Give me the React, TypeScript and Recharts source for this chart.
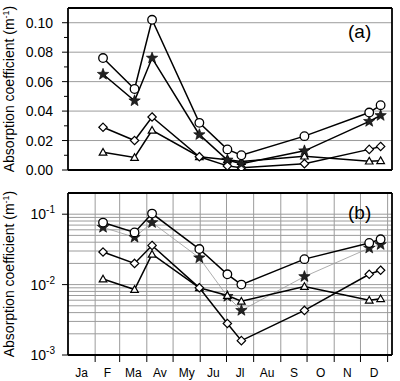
import React from 'react';
import { LineChart, Line, XAxis, YAxis, CartesianGrid } from 'recharts';

// sampling dates (day of year) and the four absorption series
const days = [40, 76, 96, 150, 182, 198, 270, 344, 357];
const circles = [0.076, 0.055, 0.102, 0.032, 0.014, 0.01, 0.023, 0.039, 0.044];
const stars = [0.065, 0.047, 0.076, 0.024, 0.0068, 0.0043, 0.013, 0.033, 0.037];
const diamonds = [0.029, 0.02, 0.036, 0.009, 0.0028, 0.0016, 0.0043, 0.014, 0.016];
const triangles = [0.012, 0.0085, 0.027, 0.009, 0.007, 0.0058, 0.0094, 0.006, 0.0063];

const monthLabels = ['Ja', 'F', 'Ma', 'Av', 'My', 'Ju', 'Jl', 'Au', 'S', 'O', 'N', 'D'];
const monthEnds = [31, 59, 90, 120, 151, 181, 212, 243, 273, 304, 334, 365];
const monthMids = [15.5, 45, 74.5, 105, 135.5, 166, 196.5, 227.5, 258, 288.5, 319, 349.5];

const linMajor = [0, 0.02, 0.04, 0.06, 0.08, 0.1];
const linMinor = [0.01, 0.03, 0.05, 0.07, 0.09];
const linGrid = [0.02, 0.04, 0.06, 0.08, 0.1];
const logMajor = [0.001, 0.01, 0.1];
const logExp = ['-3', '-2', '-1'];
const logGrid = [
  0.002, 0.003, 0.004, 0.005, 0.006, 0.007, 0.008, 0.009, 0.01,
  0.02, 0.03, 0.04, 0.05, 0.06, 0.07, 0.08, 0.09, 0.1,
];

const rows = days.map((d, i) => ({
  day: d,
  circ: circles[i],
  star: stars[i],
  diam: diamonds[i],
  tri: triangles[i],
}));

const FONT = 'Liberation Sans, Arial, Helvetica, sans-serif';
const GRID = '#9c9c9c';
const linAll = [...linMajor, ...linMinor].sort((a, b) => a - b);
const monthTicks = [...monthEnds, ...monthMids].sort((a, b) => a - b);

function CircleDot(p: any) {
  if (p.cx == null) return <g key={p.key} />;
  return <circle key={p.key} cx={p.cx} cy={p.cy} r={4.3} fill="#fff" stroke="#000" strokeWidth={1.3} />;
}

function DiamondDot(p: any) {
  if (p.cx == null) return <g key={p.key} />;
  const s = 4.2;
  return (
    <path
      key={p.key}
      d={`M${p.cx},${p.cy - s}L${p.cx + s},${p.cy}L${p.cx},${p.cy + s}L${p.cx - s},${p.cy}Z`}
      fill="#fff"
      stroke="#000"
      strokeWidth={1.2}
    />
  );
}

function TriangleDot(p: any) {
  if (p.cx == null) return <g key={p.key} />;
  const s = 3.8;
  return (
    <path
      key={p.key}
      d={`M${p.cx},${p.cy - s}L${p.cx + s},${p.cy + s * 0.75}L${p.cx - s},${p.cy + s * 0.75}Z`}
      fill="#fff"
      stroke="#000"
      strokeWidth={1.2}
    />
  );
}

function StarDot(p: any) {
  if (p.cx == null) return <g key={p.key} />;
  const pts: string[] = [];
  for (let k = 0; k < 10; k++) {
    const r = k % 2 === 0 ? 6 : 2.5;
    const a = -Math.PI / 2 + (k * Math.PI) / 5;
    pts.push(`${p.cx + r * Math.cos(a)},${p.cy + r * Math.sin(a)}`);
  }
  return <polygon key={p.key} points={pts.join(' ')} fill="#222" stroke="#000" strokeWidth={0.6} />;
}

function LinTick(p: any) {
  const v = p.payload.value;
  const major = linMajor.includes(v);
  return (
    <g>
      <line x1={p.x} x2={p.x - (major ? 6 : 4)} y1={p.y} y2={p.y} stroke="#000" />
      {major && (
        <text x={p.x - 15} y={p.y + 5} textAnchor="end" fontSize={14} fontFamily={FONT} fill="#000">
          {v.toFixed(2)}
        </text>
      )}
    </g>
  );
}

function LogTick(p: any) {
  const i = logMajor.indexOf(p.payload.value);
  return (
    <g>
      <line x1={p.x} x2={p.x - 6} y1={p.y} y2={p.y} stroke="#000" />
      <text x={p.x - 13} y={p.y + 5} textAnchor="end" fontSize={14} fontFamily={FONT} fill="#000">
        <tspan>10</tspan>
        <tspan dy={-6} fontSize={10}>{logExp[i]}</tspan>
      </text>
    </g>
  );
}

function MonthTick(p: any) {
  const v = p.payload.value;
  const i = monthMids.indexOf(v);
  if (i >= 0) {
    return (
      <text x={p.x} y={p.y + 22} textAnchor="middle" fontSize={12} fontFamily={FONT} fill="#000">
        {monthLabels[i]}
      </text>
    );
  }
  return <line x1={p.x} x2={p.x} y1={p.y} y2={p.y + 7} stroke="#000" />;
}

function YLabel({ cy }: { cy: number }) {
  return (
    <text
      x={14}
      y={cy}
      transform={`rotate(-90 14 ${cy})`}
      textAnchor="middle"
      fontSize={14}
      fontFamily={FONT}
      fill="#000"
    >
      Absorption coefficient (m
      <tspan dy={-5} fontSize={9}>-1</tspan>
      <tspan dy={5}>)</tspan>
    </text>
  );
}

const frame = { stroke: '#000', strokeWidth: 1.8 };

export default function App() {
  return (
    <div style={{ position: 'absolute', left: 0, top: 0, width: 400, height: 381, background: '#fff' }}>
      <LineChart width={400} height={180} data={rows} margin={{ top: 0, right: 0, bottom: 0, left: 8 }}>
        <CartesianGrid horizontalValues={linGrid} verticalValues={monthEnds} stroke={GRID} fill="none" />
        <XAxis
          dataKey="day"
          type="number"
          domain={[0, 370]}
          allowDataOverflow
          ticks={monthEnds}
          interval={0}
          tick={false}
          tickSize={6}
          height={10}
          axisLine={frame}
          tickLine={{ stroke: '#000' }}
        />
        <XAxis
          xAxisId="top"
          orientation="top"
          dataKey="day"
          type="number"
          domain={[0, 370]}
          allowDataOverflow
          ticks={monthEnds}
          interval={0}
          tick={false}
          tickSize={6}
          height={8}
          axisLine={frame}
          tickLine={{ stroke: '#000' }}
        />
        <YAxis
          type="number"
          domain={[0, 0.11]}
          allowDataOverflow
          ticks={linAll}
          interval={0}
          width={60}
          tickSize={0}
          tickMargin={0}
          tickLine={false}
          tick={<LinTick />}
          axisLine={frame}
        />
        <YAxis
          yAxisId="right"
          orientation="right"
          type="number"
          domain={[0, 0.11]}
          allowDataOverflow
          ticks={linAll}
          interval={0}
          width={8}
          tickSize={3}
          tick={false}
          axisLine={frame}
          tickLine={{ stroke: '#000' }}
        />
        <Line dataKey="tri" stroke="#000" strokeWidth={1.5} dot={TriangleDot} isAnimationActive={false} />
        <Line dataKey="diam" stroke="#000" strokeWidth={1.5} dot={DiamondDot} isAnimationActive={false} />
        <Line dataKey="star" stroke="#000" strokeWidth={1.5} dot={StarDot} isAnimationActive={false} />
        <Line dataKey="circ" stroke="#000" strokeWidth={1.5} dot={CircleDot} isAnimationActive={false} />
        <YLabel cy={89} />
        <text x={348} y={38} fontSize={19} fontFamily={FONT} fill="#000">(a)</text>
      </LineChart>
      <LineChart width={400} height={201} data={rows} margin={{ top: 5, right: 0, bottom: 0, left: 8 }}>
        <CartesianGrid horizontalValues={logGrid} verticalValues={monthEnds} stroke={GRID} fill="none" />
        <XAxis
          dataKey="day"
          type="number"
          domain={[0, 370]}
          allowDataOverflow
          ticks={monthTicks}
          interval={0}
          tickSize={0}
          tickMargin={0}
          tickLine={false}
          tick={<MonthTick />}
          height={26}
          axisLine={frame}
        />
        <XAxis
          xAxisId="top"
          orientation="top"
          dataKey="day"
          type="number"
          domain={[0, 370]}
          allowDataOverflow
          ticks={monthEnds}
          interval={0}
          tick={false}
          tickSize={6}
          height={8}
          axisLine={frame}
          tickLine={{ stroke: '#000' }}
        />
        <YAxis
          type="number"
          scale="log"
          domain={[0.001, 0.2]}
          allowDataOverflow
          ticks={logMajor}
          interval={0}
          width={60}
          tickSize={0}
          tickMargin={0}
          tickLine={false}
          tick={<LogTick />}
          axisLine={frame}
        />
        <YAxis
          yAxisId="right"
          orientation="right"
          type="number"
          scale="log"
          domain={[0.001, 0.2]}
          allowDataOverflow
          ticks={logMajor}
          interval={0}
          width={8}
          tickSize={3}
          tick={false}
          axisLine={frame}
          tickLine={{ stroke: '#000' }}
        />
        <Line dataKey="star" stroke="#999" strokeWidth={0.8} dot={StarDot} isAnimationActive={false} />
        <Line dataKey="tri" stroke="#000" strokeWidth={1.5} dot={TriangleDot} isAnimationActive={false} />
        <Line dataKey="diam" stroke="#000" strokeWidth={1.5} dot={DiamondDot} isAnimationActive={false} />
        <Line dataKey="circ" stroke="#000" strokeWidth={1.5} dot={CircleDot} isAnimationActive={false} />
        <YLabel cy={94} />
        <text x={348} y={39} fontSize={19} fontFamily={FONT} fill="#000">(b)</text>
      </LineChart>
    </div>
  );
}
